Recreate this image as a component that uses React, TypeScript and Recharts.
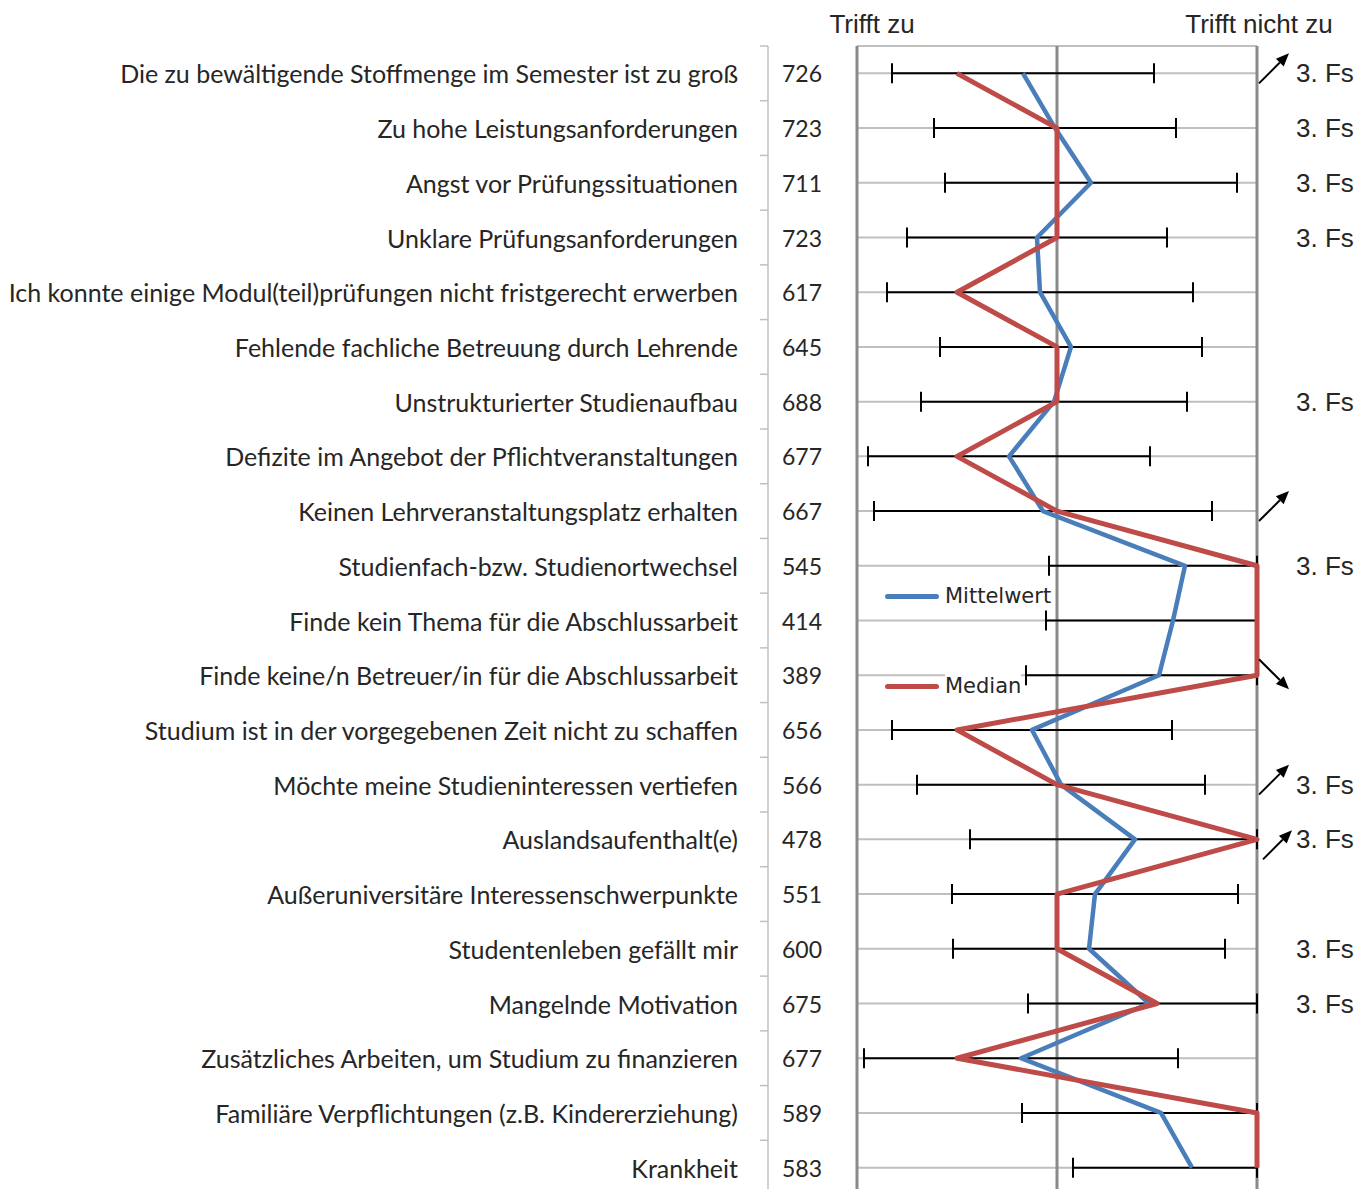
import { ComposedChart, Line, XAxis, YAxis, CartesianGrid, ReferenceLine, ErrorBar, Legend } from 'recharts';

// Gründe / Items
const labels = [
  'Die zu bewältigende Stoffmenge im Semester ist zu groß',
  'Zu hohe Leistungsanforderungen',
  'Angst vor Prüfungssituationen',
  'Unklare Prüfungsanforderungen',
  'Ich konnte einige Modul(teil)prüfungen nicht fristgerecht erwerben',
  'Fehlende fachliche Betreuung durch Lehrende',
  'Unstrukturierter Studienaufbau',
  'Defizite im Angebot der Pflichtveranstaltungen',
  'Keinen Lehrveranstaltungsplatz erhalten',
  'Studienfach-bzw. Studienortwechsel',
  'Finde kein Thema für die Abschlussarbeit',
  'Finde keine/n Betreuer/in für die Abschlussarbeit',
  'Studium ist in der vorgegebenen Zeit nicht zu schaffen',
  'Möchte meine Studieninteressen vertiefen',
  'Auslandsaufenthalt(e)',
  'Außeruniversitäre Interessenschwerpunkte',
  'Studentenleben gefällt mir',
  'Mangelnde Motivation',
  'Zusätzliches Arbeiten, um Studium zu finanzieren',
  'Familiäre Verpflichtungen (z.B. Kindererziehung)',
  'Krankheit',
];

const counts = [726, 723, 711, 723, 617, 645, 688, 677, 667, 545, 414, 389, 656, 566, 478, 551, 600, 675, 677, 589, 583];

const means = [2.66, 2.98, 3.34, 2.8, 2.83, 3.14, 2.97, 2.52, 2.86, 4.28, 4.16, 4.02, 2.75, 3.04, 3.78, 3.38, 3.32, 3.92, 2.64, 4.04, 4.35];

const medians = [2, 3, 3, 3, 2, 3, 3, 2, 3, 5, 5, 5, 2, 3, 5, 3, 3, 4, 2, 5, 5];

const sds = [1.31, 1.21, 1.46, 1.3, 1.53, 1.31, 1.33, 1.41, 1.69, 1.36, 1.27, 1.33, 1.4, 1.44, 1.65, 1.43, 1.36, 1.21, 1.57, 1.39, 1.19];

const notes = ['3. Fs', '3. Fs', '3. Fs', '3. Fs', '', '', '3. Fs', '', '', '3. Fs', '', '', '', '3. Fs', '3. Fs', '', '3. Fs', '3. Fs', '', '', ''];

const arrows = ['up', '', '', '', '', '', '', '', 'up', '', '', 'down', '', 'up', 'upLow', '', '', '', '', '', ''];

const scaleEnds = ['Trifft zu', 'Trifft nicht zu'];

const MIN = 1;
const MAX = 5;

const data = labels.map((label, i) => ({
  label,
  mean: means[i],
  median: medians[i],
  err: [means[i] - Math.max(MIN, means[i] - sds[i]), Math.min(MAX, means[i] + sds[i]) - means[i]],
}));

const W = 1369;
const H = 1195;
const TOP = 46;
const STEP = (H - TOP) / labels.length;

const BLUE = '#4a7ebb';
const RED = '#be4b48';
const TEXT = '#262626';

const LeftTick = (props: any) => {
  const { y, payload, index } = props;
  const half = STEP / 2;
  return (
    <g>
      <line x1={768} x2={768} y1={y - half} y2={y + half} stroke="#c0c0c0" strokeWidth={1.5} />
      <line x1={760} x2={768} y1={y - half} y2={y - half} stroke="#c0c0c0" strokeWidth={1.5} />
      <text x={738} y={y} textAnchor="end" dominantBaseline="central" fill={TEXT} fontFamily="Lato" fontSize={25}>
        {payload.value}
      </text>
      <text x={782} y={y} textAnchor="start" dominantBaseline="central" fill={TEXT} fontFamily="Lato" fontSize={23}>
        {counts[index]}
      </text>
    </g>
  );
};

const Arrow = ({ x1, y1, x2, y2 }: { x1: number; y1: number; x2: number; y2: number }) => {
  const dx = x2 - x1;
  const dy = y2 - y1;
  const len = Math.sqrt(dx * dx + dy * dy);
  const ux = dx / len;
  const uy = dy / len;
  const head = 13;
  const bx = x2 - ux * head;
  const by = y2 - uy * head;
  return (
    <g>
      <line x1={x1} y1={y1} x2={bx} y2={by} stroke="#000" strokeWidth={2} />
      <polygon
        points={`${x2},${y2} ${bx - uy * 5.5},${by + ux * 5.5} ${bx + uy * 5.5},${by - ux * 5.5}`}
        fill="#000"
      />
    </g>
  );
};

const RightTick = (props: any) => {
  const { y, index } = props;
  const a = arrows[index];
  return (
    <g>
      {notes[index] && (
        <text x={1296} y={y} textAnchor="start" dominantBaseline="central" fill={TEXT} fontFamily="Liberation Sans" fontSize={26}>
          {notes[index]}
        </text>
      )}
      {a === 'up' && <Arrow x1={1259} y1={y + 10} x2={1289} y2={y - 20} />}
      {a === 'upLow' && <Arrow x1={1263} y1={y + 20} x2={1292} y2={y - 9} />}
      {a === 'down' && <Arrow x1={1259} y1={y - 16} x2={1289} y2={y + 14} />}
    </g>
  );
};

const TopTick = (props: any) => {
  const { x, payload } = props;
  const text = payload.value === MIN ? scaleEnds[0] : scaleEnds[1];
  return (
    <text x={payload.value === MIN ? x + 15 : x + 2} y={24} textAnchor="middle" dominantBaseline="central" fill={TEXT} fontFamily="Liberation Sans" fontSize={26}>
      {text}
    </text>
  );
};

const LegendBox = () => (
  <div style={{ fontFamily: 'DejaVu Sans', fontSize: 21, color: TEXT }}>
    {[
      { name: 'Mittelwert', color: BLUE },
      { name: 'Median', color: RED },
    ].map((item, i) => (
      <div key={item.name} style={{ display: 'flex', alignItems: 'center', height: 32, marginTop: i === 0 ? 0 : 58 }}>
        <span style={{ display: 'inline-block', width: 54, height: 5, borderRadius: 3, background: item.color, marginRight: 6 }} />
        <span style={{ background: '#fff', lineHeight: '26px' }}>{item.name}</span>
      </div>
    ))}
  </div>
);

export default function App() {
  const pad = { top: STEP / 2, bottom: STEP / 2 };
  return (
    <div style={{ position: 'absolute', left: 0, top: 0, width: W, height: 1189, overflow: 'hidden', background: '#fff' }}>
      <ComposedChart width={W} height={H} data={data} layout="vertical" margin={{ top: 0, right: 0, bottom: 0, left: 0 }}>
        <CartesianGrid yAxisId="l" horizontal vertical={false} stroke="#bfbfbf" strokeWidth={2} />
        <XAxis
          type="number"
          orientation="top"
          domain={[MIN, MAX]}
          ticks={[MIN, MAX]}
          height={TOP}
          axisLine={false}
          tickLine={false}
          tick={<TopTick />}
        />
        <YAxis yAxisId="l" type="category" dataKey="label" width={857} padding={pad} axisLine={false} tickLine={false} interval={0} tick={<LeftTick />} />
        <YAxis yAxisId="r" type="category" dataKey="label" orientation="right" width={112} padding={pad} axisLine={false} tickLine={false} interval={0} tick={<RightTick />} />
        {[1, 3, 5].map((v) => (
          <ReferenceLine key={v} yAxisId="l" x={v} stroke="#8a8a8a" strokeWidth={3} />
        ))}
        <Line yAxisId="l" dataKey="mean" stroke="none" dot={false} isAnimationActive={false} legendType="none">
          <ErrorBar dataKey="err" direction="x" width={10} stroke="#000" strokeWidth={2} />
        </Line>
        <Line yAxisId="l" dataKey="mean" stroke={BLUE} strokeWidth={4.5} strokeLinejoin="round" dot={false} isAnimationActive={false} />
        <Line yAxisId="l" dataKey="median" stroke={RED} strokeWidth={5} strokeLinejoin="round" dot={false} isAnimationActive={false} />
        <Legend
          layout="vertical"
          align="center"
          verticalAlign="middle"
          content={<LegendBox />}
          wrapperStyle={{ left: 885, top: 580, width: 200, height: 130 }}
        />
      </ComposedChart>
    </div>
  );
}
